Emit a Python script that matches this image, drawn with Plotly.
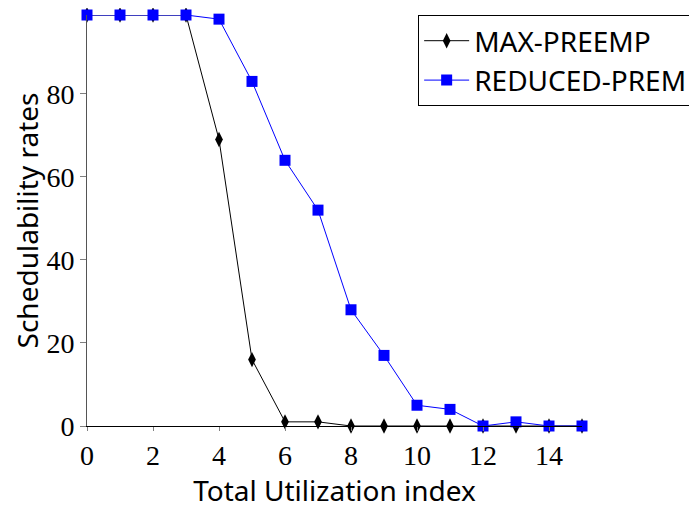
import plotly.graph_objects as go

x_vals = list(range(16))
max_preemp = [99, 99, 99, 99, 69, 16, 1, 1, 0, 0, 0, 0, 0, 0, 0, 0]
reduced_prem = [99, 99, 99, 99, 98, 83, 64, 52, 28, 17, 5, 4, 0, 1, 0, 0]
x_ticks = [0, 2, 4, 6, 8, 10, 12, 14]
y_ticks = [0, 20, 40, 60, 80]

fig = go.Figure()
fig.add_trace(go.Scatter(
    x=x_vals, y=max_preemp, name="MAX-PREEMP", mode="lines+markers",
    line=dict(color="black", width=1),
    marker=dict(symbol="diamond-tall", size=11, color="black"),
    cliponaxis=False,
))
fig.add_trace(go.Scatter(
    x=x_vals, y=reduced_prem, name="REDUCED-PREM", mode="lines+markers",
    line=dict(color="blue", width=1),
    marker=dict(symbol="square", size=11, color="blue"),
    cliponaxis=False,
))

serif = "Liberation Serif"
sans = "Noto Sans"

fig.update_layout(
    width=689, height=501,
    margin=dict(l=79, r=115, t=7, b=83, autoexpand=False),
    plot_bgcolor="white", paper_bgcolor="white",
    showlegend=True,
    legend=dict(
        x=0.669, y=1.0, xanchor="left", yanchor="top",
        bordercolor="black", borderwidth=1,
        font=dict(family=sans, size=28, color="black"),
        bgcolor="white", tracegroupgap=0, itemwidth=45,
    ),
    xaxis=dict(
        range=[0, 15], tickvals=x_ticks, ticktext=[str(t) for t in x_ticks],
        showgrid=False, zeroline=False, showline=True, linecolor="black", linewidth=1,
        ticks="outside", ticklen=4, tickcolor="gray",
        tickfont=dict(family=serif, size=28, color="black"),
        title=dict(text="Total Utilization index", font=dict(family=sans, size=28, color="black"), standoff=8),
    ),
    yaxis=dict(
        range=[0, 99], tickvals=y_ticks, ticktext=[str(t) for t in y_ticks],
        showgrid=False, zeroline=False, showline=True, linecolor="#555555", linewidth=1,
        ticks="outside", ticklen=6, tickcolor="gray",
        tickfont=dict(family=serif, size=28, color="black"),
        title=dict(text="Schedulability rates", font=dict(family=sans, size=28, color="black"), standoff=2),
    ),
)

fig.write_html("out.html")
